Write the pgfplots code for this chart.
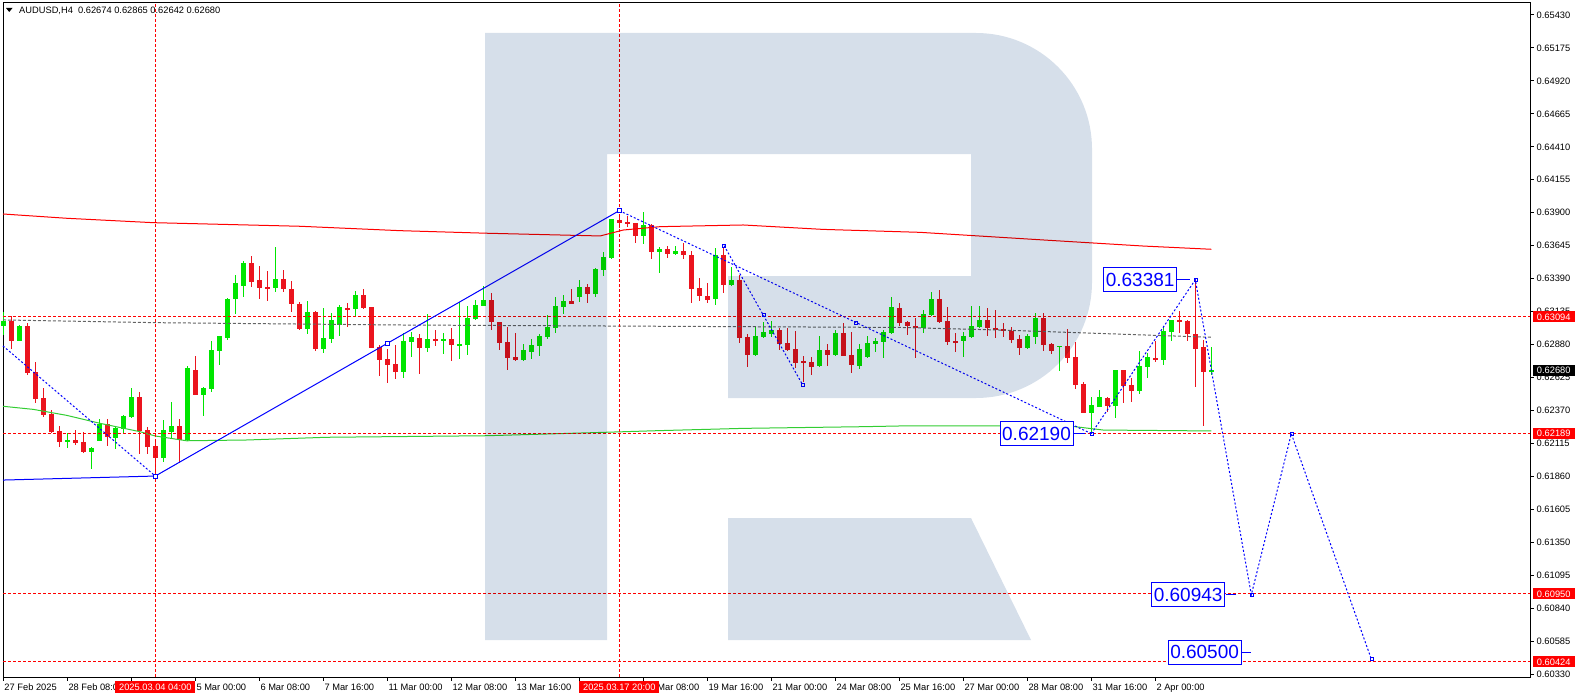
\documentclass[border=0pt]{standalone}
\usepackage{fontspec}
\setmainfont{Liberation Sans}
\usepackage{pgfplots}
\pgfplotsset{compat=1.18}
\usepackage{pgfplotstable}
\definecolor{cgreen}{RGB}{0,230,0}
\definecolor{cred}{RGB}{235,20,30}
\definecolor{wm}{RGB}{214,223,234}
\definecolor{mtblue}{RGB}{0,0,255}
\definecolor{mtgray}{RGB}{100,100,100}
\newcommand{\tf}{\fontsize{9.3}{11}\selectfont}

\pgfplotstableread{
i o h l c
0 0.63023 0.63132 0.62954 0.63062
2 0.62907 0.63031 0.62907 0.63023
8 0.62133 0.62195 0.62079 0.62141
11 0.62048 0.62087 0.61917 0.62079
12 0.62133 0.62304 0.62133 0.62265
14 0.62157 0.62249 0.62072 0.62234
15 0.62226 0.62335 0.62195 0.62327
16 0.62319 0.62544 0.62311 0.62474
20 0.62002 0.62296 0.61971 0.62219
21 0.62203 0.62435 0.62157 0.62249
23 0.62141 0.62714 0.62133 0.62698
25 0.62490 0.62551 0.62327 0.62544
26 0.62536 0.62907 0.62513 0.62838
27 0.62830 0.62946 0.62722 0.62946
28 0.62931 0.63240 0.62915 0.63232
29 0.63232 0.63418 0.63116 0.63356
30 0.63333 0.63526 0.63248 0.63511
34 0.63317 0.63635 0.63287 0.63387
38 0.63000 0.63217 0.62962 0.63132
40 0.62846 0.63163 0.62814 0.62931
41 0.62923 0.63124 0.62892 0.63070
42 0.63031 0.63186 0.62946 0.63170
44 0.63155 0.63294 0.63093 0.63263
50 0.62667 0.62969 0.62621 0.62907
51 0.62900 0.62977 0.62783 0.62938
53 0.62853 0.63116 0.62822 0.62923
55 0.62907 0.62969 0.62807 0.62923
57 0.62876 0.63209 0.62768 0.62884
58 0.62876 0.63178 0.62799 0.63085
59 0.63077 0.63224 0.63070 0.63186
60 0.63178 0.63333 0.63178 0.63224
65 0.62760 0.62884 0.62752 0.62838
66 0.62822 0.62923 0.62768 0.62876
67 0.62869 0.62962 0.62791 0.62946
68 0.62938 0.63108 0.62923 0.63016
69 0.63008 0.63248 0.62969 0.63178
70 0.63170 0.63263 0.63116 0.63217
72 0.63248 0.63379 0.63209 0.63325
74 0.63271 0.63472 0.63248 0.63464
75 0.63457 0.63596 0.63410 0.63557
76 0.63550 0.63851 0.63542 0.63851
80 0.63720 0.63905 0.63658 0.63805
82 0.63596 0.63635 0.63434 0.63619
84 0.63581 0.63642 0.63573 0.63604
89 0.63232 0.63627 0.63186 0.63573
91 0.63341 0.63480 0.63333 0.63379
94 0.62799 0.63016 0.62791 0.62946
95 0.62938 0.63054 0.62931 0.62977
96 0.62962 0.63062 0.62938 0.62992
102 0.62714 0.62946 0.62706 0.62838
104 0.62799 0.62992 0.62791 0.62969
107 0.62714 0.62884 0.62691 0.62846
108 0.62783 0.62946 0.62776 0.62892
109 0.62884 0.62931 0.62822 0.62907
110 0.62900 0.62992 0.62776 0.62977
111 0.62969 0.63248 0.62962 0.63170
115 0.63008 0.63147 0.62969 0.63116
116 0.63108 0.63287 0.63101 0.63232
120 0.62907 0.62977 0.62783 0.62946
121 0.62938 0.63178 0.62931 0.63023
122 0.63016 0.63178 0.63008 0.63070
128 0.62853 0.62962 0.62846 0.62946
129 0.62938 0.63124 0.62884 0.63085
132 0.62861 0.62869 0.62675 0.62869
136 0.62350 0.62474 0.62190 0.62412
137 0.62396 0.62528 0.62396 0.62474
139 0.62404 0.62683 0.62311 0.62683
142 0.62520 0.62830 0.62497 0.62714
143 0.62706 0.62814 0.62621 0.62783
145 0.62760 0.63023 0.62722 0.62985
146 0.62977 0.63070 0.62907 0.63070
151 0.62674 0.62865 0.62642 0.62680
}\uptable

\pgfplotstableread{
i o h l c
1 0.63062 0.63101 0.62846 0.62907
3 0.63023 0.63047 0.62644 0.62660
4 0.62667 0.62745 0.62427 0.62459
5 0.62466 0.62544 0.62319 0.62335
6 0.62342 0.62373 0.62195 0.62203
7 0.62211 0.62249 0.62087 0.62126
9 0.62141 0.62219 0.62103 0.62118
10 0.62126 0.62203 0.62040 0.62048
13 0.62265 0.62304 0.62095 0.62164
17 0.62474 0.62513 0.62033 0.62211
18 0.62219 0.62242 0.62033 0.62087
19 0.62095 0.62126 0.61863 0.62002
22 0.62249 0.62304 0.61963 0.62141
24 0.62683 0.62791 0.62490 0.62490
31 0.63511 0.63565 0.63325 0.63364
32 0.63379 0.63488 0.63232 0.63317
33 0.63325 0.63449 0.63217 0.63317
35 0.63387 0.63457 0.63287 0.63310
36 0.63310 0.63372 0.63132 0.63194
37 0.63194 0.63209 0.62992 0.63000
39 0.63132 0.63139 0.62830 0.62846
43 0.63163 0.63201 0.63016 0.63155
45 0.63263 0.63310 0.63155 0.63163
46 0.63170 0.63170 0.62853 0.62853
47 0.62861 0.62876 0.62636 0.62760
48 0.62768 0.62846 0.62582 0.62722
49 0.62729 0.62876 0.62613 0.62667
52 0.62931 0.62962 0.62652 0.62853
54 0.62923 0.62992 0.62869 0.62907
56 0.62923 0.63008 0.62752 0.62876
61 0.63224 0.63279 0.62992 0.63054
62 0.63054 0.63054 0.62838 0.62892
63 0.62900 0.63016 0.62683 0.62776
64 0.62783 0.62969 0.62752 0.62760
71 0.63217 0.63310 0.63194 0.63194
73 0.63325 0.63348 0.63201 0.63271
77 0.63844 0.63882 0.63782 0.63820
78 0.63828 0.63875 0.63789 0.63813
79 0.63820 0.63820 0.63666 0.63720
81 0.63805 0.63813 0.63542 0.63596
83 0.63619 0.63642 0.63550 0.63581
85 0.63604 0.63666 0.63542 0.63573
86 0.63573 0.63604 0.63201 0.63310
87 0.63317 0.63395 0.63217 0.63256
88 0.63256 0.63356 0.63201 0.63224
90 0.63573 0.63635 0.63279 0.63341
92 0.63379 0.63418 0.62892 0.62931
93 0.62938 0.62962 0.62706 0.62799
97 0.62992 0.63008 0.62838 0.62884
98 0.62892 0.63008 0.62830 0.62838
99 0.62846 0.62985 0.62698 0.62737
100 0.62752 0.62791 0.62590 0.62737
101 0.62745 0.62783 0.62644 0.62706
103 0.62838 0.62884 0.62714 0.62799
105 0.62969 0.63047 0.62791 0.62791
106 0.62799 0.62977 0.62660 0.62722
112 0.63163 0.63201 0.63023 0.63047
113 0.63054 0.63062 0.62954 0.63023
114 0.63023 0.63085 0.62776 0.63008
117 0.63232 0.63302 0.63047 0.63054
118 0.63062 0.63170 0.62876 0.62900
119 0.62907 0.62969 0.62822 0.62900
123 0.63070 0.63163 0.62946 0.63008
124 0.63008 0.63147 0.62931 0.62992
125 0.63000 0.63047 0.62938 0.62985
126 0.62985 0.63016 0.62892 0.62915
127 0.62923 0.62954 0.62799 0.62853
130 0.63085 0.63124 0.62830 0.62876
131 0.62884 0.62892 0.62807 0.62830
133 0.62869 0.63000 0.62737 0.62776
134 0.62783 0.62900 0.62536 0.62567
135 0.62575 0.62590 0.62350 0.62350
138 0.62466 0.62474 0.62358 0.62404
140 0.62683 0.62683 0.62427 0.62559
141 0.62567 0.62621 0.62435 0.62520
144 0.62776 0.62907 0.62745 0.62760
147 0.63070 0.63139 0.62969 0.63054
148 0.63062 0.63070 0.62907 0.62962
149 0.62962 0.63381 0.62551 0.62846
150 0.62861 0.62915 0.62249 0.62667
}\downtable

\pgfplotsset{candle/.style 2 args={only marks, mark=*, mark size=0pt, mark options={draw=none, fill=none}, forget plot,
    error bars/.cd, y dir=both, y explicit, error mark=none, error bar style={line width=#1, draw=#2}}}

\begin{document}
\begin{tikzpicture}
\path[use as bounding box] (0pt,0pt) rectangle (1578pt,-698pt);
\begin{axis}[
  at={(3pt,-677pt)}, anchor=south west,
  scale only axis, width=1527pt, height=674pt,
  xmin=-0.0375, xmax=190.8375, ymin=0.603068, ymax=0.655229,
  clip=false,
  axis line style={black, line width=1pt},
  tick align=outside, major tick length=3.5pt,
  tick style={black, line width=1pt},
  xtick pos=left, ytick pos=right, yticklabel pos=right,
  xtick={0,8,16,24,32,40,48,56,64,72,80,88,96,104,112,120,128,136,144},
  xticklabels={27 Feb 2025,28 Feb 08:00,3 Mar 16:00,5 Mar 00:00,6 Mar 08:00,7 Mar 16:00,11 Mar 00:00,12 Mar 08:00,13 Mar 16:00,17 Mar 00:00,18 Mar 08:00,19 Mar 16:00,21 Mar 00:00,24 Mar 08:00,25 Mar 16:00,27 Mar 00:00,28 Mar 08:00,31 Mar 16:00,2 Apr 00:00},
  ytick={0.60330,0.60585,0.60840,0.61095,0.61350,0.61605,0.61860,0.62115,0.62370,0.62625,0.62880,0.63135,0.63390,0.63645,0.63900,0.64155,0.64410,0.64665,0.64920,0.65175,0.65430},
  yticklabels={0.60330,0.60585,0.60840,0.61095,0.61350,0.61605,0.61860,0.62115,0.62370,0.62625,0.62880,0.63135,0.63390,0.63645,0.63900,0.64155,0.64410,0.64665,0.64920,0.65175,0.65430},
  yticklabel style={anchor=west, font=\tf, inner sep=0pt, xshift=3pt},
  xticklabel style={anchor=north west, font=\tf, inner sep=0pt, xshift=1pt, yshift=-3pt},
]
% candles: wicks and bodies
\addplot[candle={1pt}{cgreen}]
  table[x=i, y expr={(\thisrow{h}+\thisrow{l})/2}, y error expr={(\thisrow{h}-\thisrow{l})/2}] {\uptable};
\addplot[candle={5pt}{cgreen}]
  table[x=i, y expr={(\thisrow{o}+\thisrow{c})/2}, y error expr={max(abs(\thisrow{c}-\thisrow{o})/2,0.00004)}] {\uptable};
\addplot[candle={1pt}{cred}]
  table[x=i, y expr={(\thisrow{h}+\thisrow{l})/2}, y error expr={(\thisrow{h}-\thisrow{l})/2}] {\downtable};
\addplot[candle={5pt}{cred}]
  table[x=i, y expr={(\thisrow{o}+\thisrow{c})/2}, y error expr={max(abs(\thisrow{c}-\thisrow{o})/2,0.00004)}] {\downtable};

% moving averages
\addplot[red, line width=1pt, mark=none] coordinates {(-0.0375,0.63890) (7.9,0.63857) (18.7,0.63823) (37.1,0.63795) (49.6,0.63761) (60.5,0.63741) (74.6,0.63720) (77.5,0.63766) (82.1,0.63792) (92.5,0.63805) (102.4,0.63771) (114.6,0.63748) (130,0.63689) (142.5,0.63642) (151,0.63617)};
\addplot[color={rgb,255:red,50;green,205;blue,50}, line width=1pt, mark=none] coordinates {(-0.0375,0.62402) (3.75,0.62378) (7.9,0.62332) (12.1,0.62270) (17.1,0.62205) (19,0.62172) (22.9,0.62135) (30.4,0.62141) (40.4,0.62162) (60.4,0.62174) (73.3,0.62197) (81.7,0.62213) (92.5,0.62231) (107.5,0.62244) (113.3,0.62251) (133.3,0.62249) (137.5,0.62218) (151,0.62211)};
% gray dashed
\addplot[mtgray, line width=1pt, dash pattern=on 3pt off 2pt, mark=none] coordinates {(-0.0375,0.63070) (19,0.63049) (49.6,0.63031) (112,0.63012) (124.6,0.62992) (151,0.62936)};

% red dashed levels
\addplot[red, line width=1pt, dash pattern=on 3pt off 2pt, mark=none] coordinates {(-0.0375,0.63094) (190.8375,0.63094)};
\addplot[red, line width=1pt, dash pattern=on 3pt off 2pt, mark=none] coordinates {(-0.0375,0.62189) (190.8375,0.62189)};
\addplot[red, line width=1pt, dash pattern=on 3pt off 2pt, mark=none] coordinates {(-0.0375,0.60950) (190.8375,0.60950)};
\addplot[red, line width=1pt, dash pattern=on 3pt off 2pt, mark=none] coordinates {(-0.0375,0.60424) (190.8375,0.60424)};
\addplot[red, line width=1pt, dash pattern=on 3pt off 2pt, mark=none] coordinates {(19,0.603068) (19,0.655229)};
\addplot[red, line width=1pt, dash pattern=on 3pt off 2pt, mark=none] coordinates {(77,0.603068) (77,0.655229)};

% blue wave lines
\addplot[mtblue, line width=1pt, mark=none] coordinates {(-0.0375,0.61831) (19,0.61862) (77,0.63916)};
\addplot[mtblue, line width=1pt, dash pattern=on 2pt off 2pt, mark=none] coordinates {(-0.0375,0.62869) (19,0.61862)};
\addplot[mtblue, line width=1pt, dash pattern=on 2pt off 2pt, mark=none] coordinates {(77,0.63916) (136,0.62190)};
\addplot[mtblue, line width=1pt, dash pattern=on 2pt off 2pt, mark=none] coordinates {(90.1,0.63645) (99.9,0.62570)};
\addplot[mtblue, line width=1pt, dash pattern=on 2pt off 2pt, mark=none] coordinates {(136,0.62190) (149,0.63381) (156,0.60943) (161,0.62190) (171,0.60445)};
\addplot[only marks, mark=square*, mark size=2pt, mtblue, mark options={fill=white, line width=1pt}] coordinates {(19,0.61862) (48,0.62889) (77,0.63916)};
\addplot[only marks, mark=square, mark size=1.5pt, mtblue, mark options={line width=0.6pt}] coordinates {(90.1,0.63645) (99.9,0.62570) (95,0.63108) (106.6,0.63048) (136,0.62190) (149,0.63381) (156,0.60943) (161,0.62190) (171,0.60445)};

% connectors of level labels
\draw[mtblue, line width=1pt] (axis cs:146.7,0.63381) -- (axis cs:148.3,0.63381);
\draw[mtblue, line width=1pt] (axis cs:133.8,0.62190) -- (axis cs:135.2,0.62190);
\draw[mtblue, line width=1pt] (axis cs:152.8,0.60943) -- (axis cs:154.1,0.60943);
\draw[mtblue, line width=1pt] (axis cs:154.8,0.60500) -- (axis cs:156.0,0.60500);

% level labels
\tikzset{lvl/.style={draw=mtblue, fill=white, text=mtblue, line width=1pt, inner sep=0pt, minimum width=73pt, minimum height=24pt, font=\fontsize{19}{20}\selectfont}}
\node[lvl] at (axis cs:142.1,0.63381) {0.63381};
\node[lvl] at (axis cs:129.15,0.62190) {0.62190};
\node[lvl] at (axis cs:148.1,0.60943) {0.60943};
\node[lvl] at (axis cs:150.16,0.60500) {0.60500};

% price tags on the right axis
\tikzset{ptag/.style={anchor=west, xshift=2.5pt, inner sep=0pt, minimum width=42pt, minimum height=11pt, text=white, font=\tf}}
\node[ptag, fill=red] at (axis cs:190.8375,0.63094) {0.63094};
\node[ptag, fill=black] at (axis cs:190.8375,0.62680) {0.62680};
\node[ptag, fill=red] at (axis cs:190.8375,0.62189) {0.62189};
\node[ptag, fill=red] at (axis cs:190.8375,0.60950) {0.60950};
\node[ptag, fill=red] at (axis cs:190.8375,0.60424) {0.60424};
% date tags
\tikzset{dtag/.style={anchor=north, yshift=-4pt, inner sep=0pt, minimum width=80pt, minimum height=11.5pt, text=white, fill=red, font=\tf}}
\node[dtag] at (axis cs:19,0.603068) {2025.03.04 04:00};
\node[dtag] at (axis cs:77,0.603068) {2025.03.17 20:00};
\end{axis}

% watermark (multiplied over the chart)
\begin{scope}[x=1pt, y=-1pt, blend mode=multiply]
\fill[wm] (485,33) -- (976,33) arc[start angle=270, end angle=360, radius=116] -- (1092,282)
  arc[start angle=0, end angle=90, radius=116] -- (728,398) -- (728,276) -- (971,276) -- (971,154)
  -- (607,154) -- (607,640) -- (485,640) -- cycle;
\fill[wm] (728,518) -- (971,518) -- (1031,640) -- (728,640) -- cycle;
\end{scope}

% title
\begin{scope}[x=1pt, y=-1pt]
\fill[black] (6,8) -- (12.5,8) -- (9.25,12) -- cycle;
\node[anchor=west, inner sep=0pt, font=\tf] at (19,10.7) {AUDUSD,H4\ \ 0.62674 0.62865 0.62642 0.62680};
\end{scope}
\end{tikzpicture}
\end{document}
